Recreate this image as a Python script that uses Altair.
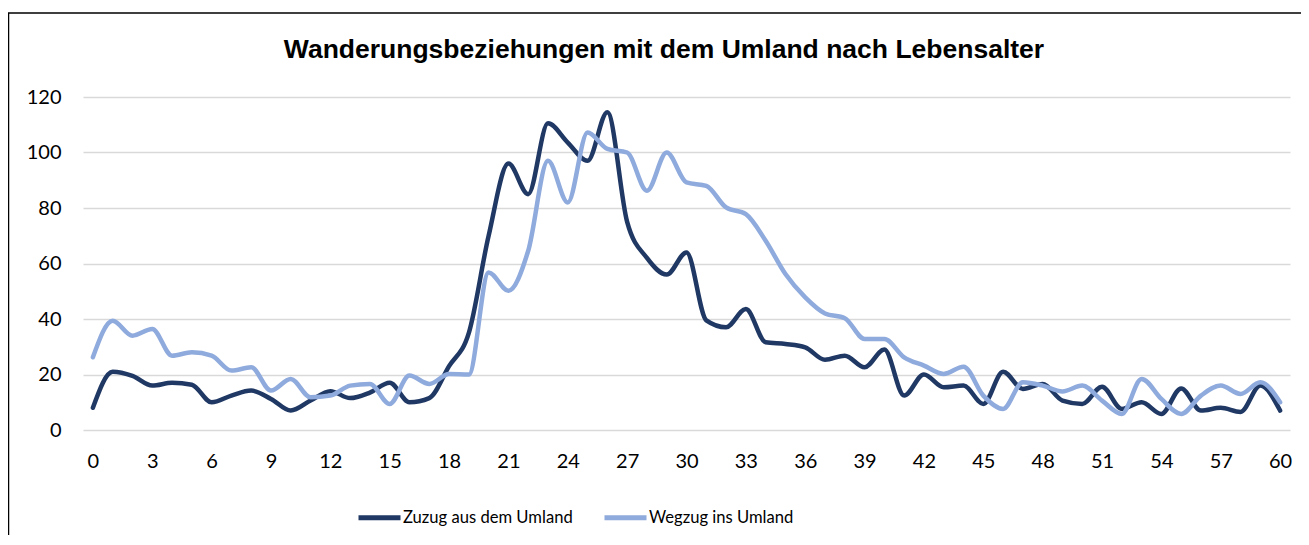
import altair as alt
import pandas as pd

ages = list(range(0, 61))
zuzug = [8, 21, 19.5, 16, 17, 16.3, 10, 12.4, 14.2, 11.2, 7, 10.6, 14, 11.5, 13.5, 17, 10, 11.5,
         23, 35, 70, 96, 85, 110.5, 103.6, 97, 114.5, 75, 62, 56, 64, 39.5, 37, 43.6, 31.6, 31,
         29.8, 25.3, 26.8, 22.6, 29, 12.4, 20, 15.4, 16, 9.4, 21, 14.8, 16.6, 10.6, 9.4, 15.6,
         7.6, 10, 5.8, 15, 7, 8, 6.5, 16, 7]
wegzug = [26.2, 39.4, 34, 36.4, 26.8, 28, 26.8, 21.4, 22.6, 14.2, 18.4, 11.8, 12.4, 16, 16.6,
          9.4, 19.6, 16.6, 20.2, 20, 56.8, 50.2, 64.6, 97, 82, 107.2, 101.3, 100, 86.2, 100,
          89.2, 88, 80.2, 77.8, 68.2, 56.2, 47.8, 42, 40.3, 32.8, 32.8, 26.2, 23.2, 20.2, 22.8,
          12.4, 7.6, 17.2, 16, 13.9, 16, 10.6, 5.8, 18.4, 11.2, 5.8, 12.4, 16, 13, 17.2, 10]
series_names = ["Zuzug aus dem Umland", "Wegzug ins Umland"]
series_colors = ["#203864", "#8faadc"]
x_ticks = list(range(0, 61, 3))
y_ticks = [0, 20, 40, 60, 80, 100, 120]
title_text = "Wanderungsbeziehungen mit dem Umland nach Lebensalter"

df = pd.DataFrame({
    "Alter": ages * 2,
    "Wert": zuzug + wegzug,
    "Serie": [series_names[0]] * len(ages) + [series_names[1]] * len(ages),
})

FONT = "Lato"

lines = alt.Chart(df).mark_line(strokeWidth=4.5, interpolate="monotone", strokeCap="round").encode(
    x=alt.X("Alter:Q", scale=alt.Scale(domain=[-0.5, 60.5], nice=False, zero=False),
            axis=alt.Axis(values=x_ticks, title=None, grid=False, ticks=False, domain=False,
                          labelFontSize=20, labelFont=FONT, labelColor="#000000",
                          labelPadding=21, labelFlush=False)),
    y=alt.Y("Wert:Q", scale=alt.Scale(domain=[0, 120], nice=False),
            axis=alt.Axis(values=y_ticks, title=None, grid=True, gridColor="#d9d9d9",
                          gridWidth=1.5, ticks=False, domain=False, labelFontSize=20,
                          labelFont=FONT, labelColor="#000000", labelPadding=22)),
    color=alt.Color("Serie:N", sort=series_names,
                    scale=alt.Scale(domain=series_names, range=series_colors),
                    legend=alt.Legend(title=None, orient="none", direction="horizontal",
                                      legendX=273, legendY=397, symbolType="stroke",
                                      symbolSize=1764, symbolStrokeWidth=5,
                                      labelFontSize=16.6, labelFont=FONT, labelColor="#000000",
                                      labelOffset=0, columnPadding=21, labelLimit=400)),
)

frame = alt.Chart(pd.DataFrame({"k": [0]})).mark_rect(
    fillOpacity=0, stroke="#000000", strokeWidth=1.5
).encode(x=alt.value(-74.5), x2=alt.value(1230), y=alt.value(-84), y2=alt.value(470))

title = alt.Chart(pd.DataFrame({"t": [title_text]})).mark_text(
    font="Liberation Sans", fontSize=26.5, fontWeight="bold", color="#000000",
    align="center", baseline="middle"
).encode(text="t:N", x=alt.value(581), y=alt.value(-47))

chart = alt.layer(lines, frame, title).properties(
    width=1207, height=333,
    autosize=alt.AutoSizeParams(type="none"),
    padding={"left": 75, "top": 89, "right": 11, "bottom": 105},
).configure_view(stroke=None)

chart.save("out.html", embed_options={"renderer": "svg", "actions": False})
